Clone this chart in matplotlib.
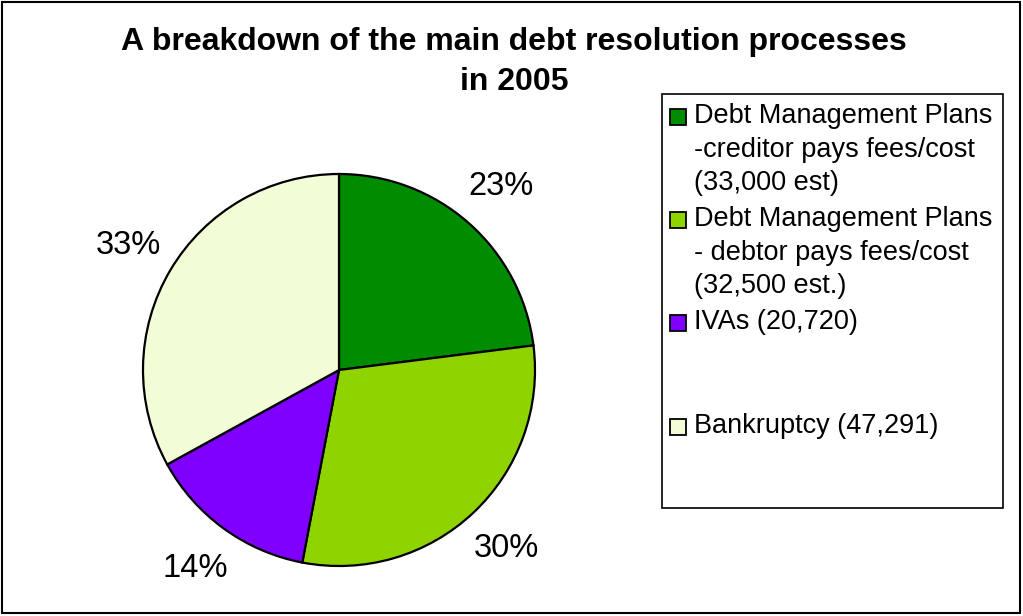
import matplotlib
matplotlib.use("Agg")
import matplotlib.pyplot as plt
from matplotlib.patches import Rectangle

plt.rcParams['font.family'] = ['Liberation Sans', 'DejaVu Sans']

title = "A breakdown of the main debt resolution processes\nin 2005"
categories = [
    "Debt Management Plans\n-creditor pays fees/cost\n(33,000 est)",
    "Debt Management Plans\n- debtor pays fees/cost\n(32,500 est.)",
    "IVAs (20,720)",
    "Bankruptcy (47,291)",
]
shares = [23, 30, 14, 33]
colors = ["#008C00", "#8FD400", "#8000FF", "#F2FDD8"]

W, H = 1023, 616
fig = plt.figure(figsize=(W / 100, H / 100), dpi=100)

def fx(x):
    return x / W

def fy(y):
    return 1 - y / H

# outer border
fig.add_artist(Rectangle((fx(2), fy(613)), fx(1020) - fx(2), fy(2) - fy(613),
                         transform=fig.transFigure, fill=False, edgecolor='black', linewidth=1.5))

# pie
cx, cy, r = 339, 370, 196
ax = fig.add_axes([fx(cx - r), fy(cy + r), 2 * r / W, 2 * r / H])
wedges, texts, autotexts = ax.pie(
    shares, colors=colors, startangle=90, counterclock=False,
    autopct='%1.0f%%', pctdistance=1.25, labeldistance=None,
    wedgeprops=dict(edgecolor='black', linewidth=1.6),
    textprops=dict(fontsize=23.5, color='black'))
ax.set_xlim(-1, 1)
ax.set_ylim(-1, 1)
ax.set_aspect('equal')
ax.axis('off')

# title
fig.text(fx(514), fy(27), title, ha='center', va='top', fontsize=23,
         fontweight='bold', linespacing=1.42)

# legend box
fig.add_artist(Rectangle((fx(662), fy(508)), fx(1003) - fx(662), fy(94) - fy(508),
                         transform=fig.transFigure, fill=False, edgecolor='black', linewidth=1.2))
entry_tops = [117, 220, 323, 427]
for lab, col, yc in zip(categories, colors, entry_tops):
    fig.add_artist(Rectangle((fx(670), fy(yc + 8)), fx(686) - fx(670), fy(yc - 8) - fy(yc + 8),
                             transform=fig.transFigure, facecolor=col, edgecolor='black', linewidth=1.3))
    fig.text(fx(694), fy(yc - 14), lab, ha='left', va='top', fontsize=19.5, linespacing=1.38)

fig.savefig("out.png", dpi=100)
